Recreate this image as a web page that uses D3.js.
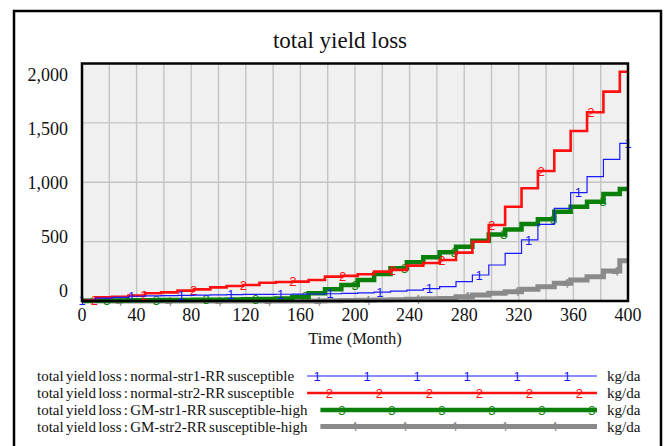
<!DOCTYPE html>
<html>
<head>
<meta charset="utf-8">
<script src="https://cdn.jsdelivr.net/npm/d3@7"></script>
<style>
  html, body { margin: 0; padding: 0; background: #fff; }
  svg { display: block; }
  text { font-family: "Liberation Serif", "Times New Roman", serif; fill: #111; }
  .mark { font-family: "Liberation Sans", Arial, sans-serif; font-size: 13px; }
</style>
</head>
<body>
<div id="chart"></div>
<script>
// step starts (months); each value holds until the next step
var months = [0, 10, 22, 34, 46, 58, 70, 82, 94, 106, 118, 130, 142, 154, 166, 178, 190,
  202, 214, 226, 238, 250, 262, 274, 286, 298, 310, 322, 334, 346, 358, 370, 382, 394];

var normalStr1 = [5, 25, 30, 40, 43, 46, 48, 50, 52, 53, 55, 56, 57, 58, 59, 61, 64,
  68, 75, 83, 92, 105, 121, 163, 219, 303, 401, 514, 646, 780, 912, 1047, 1193, 1328];
var normalStr2 = [5, 31, 36, 45, 65, 73, 87, 98, 115, 126, 135, 154, 160, 163, 177, 205, 212,
  225, 247, 262, 298, 320, 345, 407, 499, 640, 794, 949, 1095, 1266, 1432, 1589, 1763, 1931];
var gmStr1 = [2, 4, 5, 6, 7, 8, 9, 10, 11, 12, 14, 16, 22, 36, 65, 98, 135,
  177, 227, 275, 326, 368, 410, 457, 508, 561, 603, 648, 688, 752, 794, 836, 901, 943];
var gmStr2 = [0, 0, 0, 0, 0, 0, 0, 0, 0, 0, 0, 0, 0, 0, 0, 3, 5,
  6, 8, 10, 15, 18, 22, 36, 50, 65, 78, 98, 121, 149, 177, 205, 253, 339];

var xTicks = [0, 40, 80, 120, 160, 200, 240, 280, 320, 360, 400];
var yTicks = [0, 500, 1000, 1500, 2000];

var seriesNames = [
  "total yield loss : normal-str1-RR susceptible",
  "total yield loss : normal-str2-RR susceptible",
  "total yield loss : GM-str1-RR susceptible-high",
  "total yield loss : GM-str2-RR susceptible-high"
];
var seriesColors = ["#1a1aff", "#ff1010", "#0a800a", "#8a8a8a"];
var seriesWidths = [1.2, 2.6, 4.5, 5];
var seriesValues = [normalStr1, normalStr2, gmStr1, gmStr2];

var width = 669, height = 446;

var svg = d3.select("#chart").append("svg")
    .attr("width", width)
    .attr("height", height);

// outer frame
svg.append("rect")
    .attr("x", 14).attr("y", 11)
    .attr("width", 647).attr("height", 460)
    .attr("fill", "none").attr("stroke", "#000").attr("stroke-width", 2.5);

var x = d3.scaleLinear().domain([0, 400]).range([82, 628]);
var y = d3.scaleLinear().domain([0, 2000]).range([301, 63.5]);
// vensim puts the value labels a bit inside the plot frame
var yLab = d3.scaleLinear().domain([0, 2000]).range([291, 75]);

svg.append("text")
    .attr("x", 340).attr("y", 48)
    .attr("text-anchor", "middle")
    .style("font-size", "23px")
    .text("total yield loss");

svg.append("rect")
    .attr("x", 82).attr("y", 63.5)
    .attr("width", 546).attr("height", 237.5)
    .attr("fill", "#f0f0f0");

var grid = svg.append("g").attr("stroke", "#c4c4c4").attr("stroke-width", 1.4);
grid.selectAll("line.v")
    .data(d3.range(20, 400, 20))
    .enter().append("line")
    .attr("x1", d => x(d)).attr("x2", d => x(d))
    .attr("y1", 63.5).attr("y2", 301);
grid.selectAll("line.h")
    .data(yTicks.slice(1, -1))
    .enter().append("line")
    .attr("y1", d => y(d)).attr("y2", d => y(d))
    .attr("x1", 82).attr("x2", 628);

svg.selectAll("text.ylab")
    .data(yTicks)
    .enter().append("text")
    .attr("class", "ylab")
    .attr("x", 68).attr("y", d => yLab(d))
    .attr("text-anchor", "end")
    .attr("dy", "0.35em")
    .style("font-size", "18px")
    .text(d3.format(","));

svg.selectAll("text.xlab")
    .data(xTicks)
    .enter().append("text")
    .attr("class", "xlab")
    .attr("x", d => x(d)).attr("y", 315)
    .attr("text-anchor", "middle")
    .attr("dy", "0.35em")
    .style("font-size", "18px")
    .text(d => d);

// axis title is centred on the plot, not on the frame
svg.append("text")
    .attr("x", x(200)).attr("y", 338)
    .attr("text-anchor", "middle")
    .attr("dy", "0.35em")
    .style("font-size", "16.5px")
    .text("Time (Month)");

var line = d3.line()
    .x(d => x(d[0]))
    .y(d => y(d[1]))
    .curve(d3.curveStepAfter);

function stepValue(vals, m) {
  var i = d3.bisectRight(months, m) - 1;
  return vals[Math.max(0, i)];
}

var plot = svg.append("g");
// draw bottom series first so the thin blue line stays visible
[3, 2, 1, 0].forEach(function(s) {
  var vals = seriesValues[s];
  var pts = months.map((m, i) => [m, vals[i]]);
  pts.push([400, vals[vals.length - 1]]);
  plot.append("path")
      .datum(pts)
      .attr("d", line)
      .attr("fill", "none")
      .attr("stroke", seriesColors[s])
      .attr("stroke-width", seriesWidths[s]);

  // number markers, evenly spaced, shifted for each series
  var step = 400 / 11;
  var mk = d3.range(0, 12).map(k => (k + s * 0.25) * step).filter(m => m <= 400.5);
  plot.selectAll("text.m" + s)
      .data(mk)
      .enter().append("text")
      .attr("class", "mark")
      .attr("x", d => x(Math.min(d, 400)))
      .attr("y", d => y(stepValue(vals, Math.min(d, 399.9))))
      .attr("dy", "0.36em")
      .attr("text-anchor", "middle")
      .style("fill", seriesColors[s])
      .text(s + 1);
});

svg.append("rect")
    .attr("x", 82).attr("y", 63.5)
    .attr("width", 546).attr("height", 237.5)
    .attr("fill", "none").attr("stroke", "#000").attr("stroke-width", 2.5);

// legend
var legend = svg.append("g");
var rowY = [376, 393, 410, 426.5];
seriesNames.forEach(function(name, s) {
  var t = legend.append("text")
      .attr("x", 37).attr("y", rowY[s])
      .attr("dy", "0.35em")
      .style("font-size", "15px")
      .style("word-spacing", "-1.5px")
      .text(name);
  var x0 = 37 + t.node().getComputedTextLength() + 13;
  legend.append("line")
      .attr("x1", x0).attr("x2", 597)
      .attr("y1", rowY[s]).attr("y2", rowY[s])
      .attr("stroke", seriesColors[s])
      .attr("stroke-width", seriesWidths[s]);
  var mk = d3.range(0, 6).map(k => 317 + s * 12.4 + k * 50).filter(v => v <= 597 && v >= x0);
  legend.selectAll("text.lm" + s)
      .data(mk)
      .enter().append("text")
      .attr("class", "mark")
      .attr("x", d => d).attr("y", rowY[s])
      .attr("dy", "0.36em")
      .attr("text-anchor", "middle")
      .style("fill", seriesColors[s])
      .text(s + 1);
  legend.append("text")
      .attr("x", 607).attr("y", rowY[s])
      .attr("dy", "0.35em")
      .style("font-size", "15px")
      .text("kg/da");
});
</script>
</body>
</html>
